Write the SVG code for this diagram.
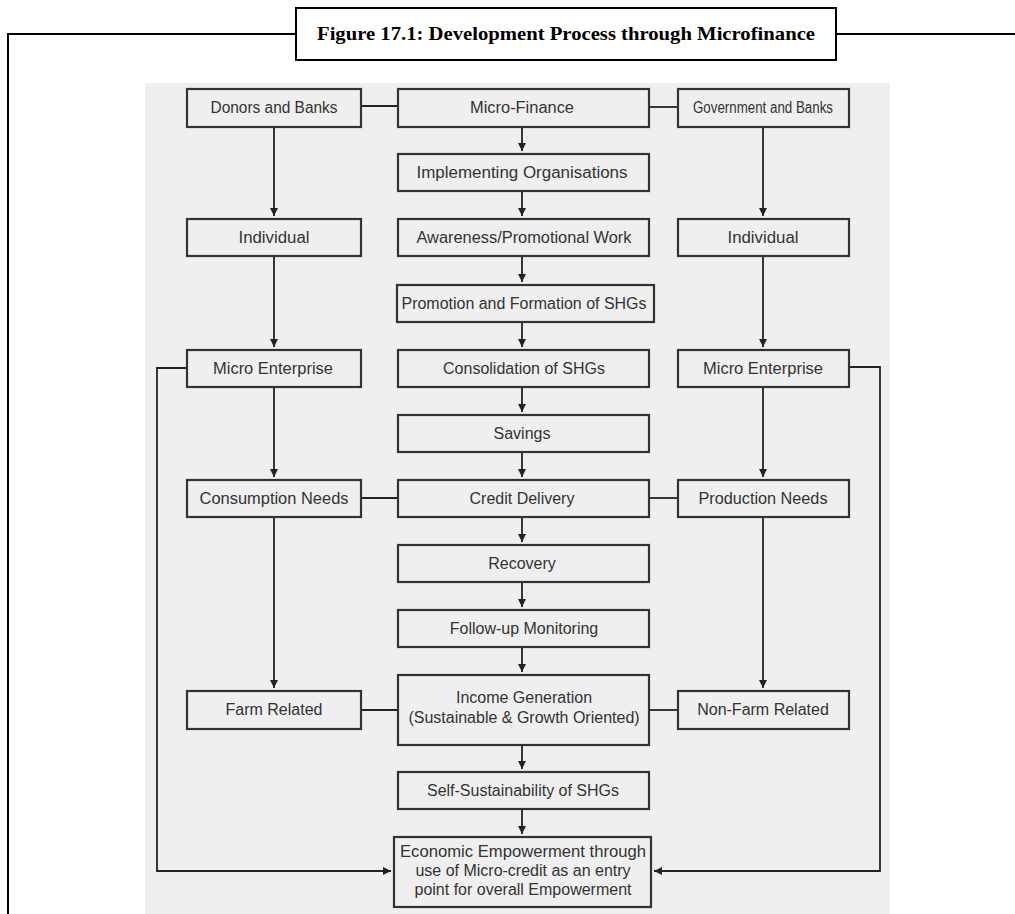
<svg xmlns="http://www.w3.org/2000/svg" width="1015" height="914" viewBox="0 0 1015 914">
<style>
.frame{fill:none;stroke:#000;stroke-width:2}
.box{fill:#efefef;stroke:#333;stroke-width:2.2}
.t{font-family:"Liberation Sans",Arial,sans-serif;font-size:16px;fill:#333;text-anchor:middle}
.c{fill:none;stroke:#222;stroke-width:1.8}
.title{font-family:"Liberation Serif","Times New Roman",serif;font-weight:bold;font-size:19px;fill:#000;text-anchor:middle}
</style>
<defs>
<marker id="ah" markerUnits="userSpaceOnUse" markerWidth="9" markerHeight="9" refX="8" refY="4.5" orient="auto">
<path d="M0,0.5 L8,4.5 L0,8.5 z" fill="#222"/>
</marker>
</defs>
<rect x="0" y="0" width="1015" height="914" fill="#fff"/>
<g id="frame">
<polyline class="frame" points="1015,34 836,34"/>
<polyline class="frame" points="296,34 8,34 8,914"/>
<rect x="296" y="8" width="540" height="52" fill="#fff" stroke="#000" stroke-width="2"/>
<text class="title" x="566" y="40" textLength="498" lengthAdjust="spacingAndGlyphs">Figure 17.1: Development Process through Microfinance</text>
</g>
<rect id="panel" x="145" y="83" width="745" height="831" fill="#efefef"/>
<g id="connectors">
<line class="c" x1="361" y1="106" x2="398" y2="106"/>
<line class="c" x1="649" y1="107" x2="678" y2="107"/>
<line class="c" x1="361" y1="498" x2="398" y2="498"/>
<line class="c" x1="649" y1="498" x2="678" y2="498"/>
<line class="c" x1="361" y1="710" x2="398" y2="710"/>
<line class="c" x1="649" y1="710" x2="678" y2="710"/>
<line class="c" x1="274" y1="127" x2="274" y2="216" marker-end="url(#ah)"/>
<line class="c" x1="274" y1="256" x2="274" y2="347" marker-end="url(#ah)"/>
<line class="c" x1="274" y1="387" x2="274" y2="477" marker-end="url(#ah)"/>
<line class="c" x1="274" y1="517" x2="274" y2="688" marker-end="url(#ah)"/>
<line class="c" x1="763" y1="127" x2="763" y2="216" marker-end="url(#ah)"/>
<line class="c" x1="763" y1="256" x2="763" y2="347" marker-end="url(#ah)"/>
<line class="c" x1="763" y1="387" x2="763" y2="477" marker-end="url(#ah)"/>
<line class="c" x1="763" y1="517" x2="763" y2="688" marker-end="url(#ah)"/>
<line class="c" x1="522" y1="127" x2="522" y2="151" marker-end="url(#ah)"/>
<line class="c" x1="522" y1="191" x2="522" y2="216" marker-end="url(#ah)"/>
<line class="c" x1="522" y1="256" x2="522" y2="282" marker-end="url(#ah)"/>
<line class="c" x1="522" y1="322" x2="522" y2="347" marker-end="url(#ah)"/>
<line class="c" x1="522" y1="387" x2="522" y2="412" marker-end="url(#ah)"/>
<line class="c" x1="522" y1="452" x2="522" y2="477" marker-end="url(#ah)"/>
<line class="c" x1="522" y1="517" x2="522" y2="542" marker-end="url(#ah)"/>
<line class="c" x1="522" y1="582" x2="522" y2="607" marker-end="url(#ah)"/>
<line class="c" x1="522" y1="647" x2="522" y2="672" marker-end="url(#ah)"/>
<line class="c" x1="522" y1="745" x2="522" y2="769" marker-end="url(#ah)"/>
<line class="c" x1="522" y1="809" x2="522" y2="834" marker-end="url(#ah)"/>
<polyline class="c" points="187,368 157,368 157,871 391,871" marker-end="url(#ah)"/>
<polyline class="c" points="849,367 880,367 880,871 654,871" marker-end="url(#ah)"/>
</g>
<g id="donors"><rect class="box" x="187" y="89" width="174" height="38"/><text class="t" x="274" y="113" textLength="127" lengthAdjust="spacingAndGlyphs">Donors and Banks</text></g>
<g id="microfinance"><rect class="box" x="398" y="89" width="251" height="38"/><text class="t" x="522" y="113" textLength="104" lengthAdjust="spacingAndGlyphs">Micro-Finance</text></g>
<g id="government"><rect class="box" x="678" y="89" width="171" height="38"/><text class="t" x="763" y="113" textLength="140" lengthAdjust="spacingAndGlyphs">Government and Banks</text></g>
<g id="implementing"><rect class="box" x="398" y="154" width="251" height="37"/><text class="t" x="522" y="178" textLength="211" lengthAdjust="spacingAndGlyphs">Implementing Organisations</text></g>
<g id="individual-left"><rect class="box" x="187" y="219" width="174" height="37"/><text class="t" x="274" y="243" textLength="71" lengthAdjust="spacingAndGlyphs">Individual</text></g>
<g id="awareness"><rect class="box" x="398" y="219" width="251" height="37"/><text class="t" x="524" y="243" textLength="215" lengthAdjust="spacingAndGlyphs">Awareness/Promotional Work</text></g>
<g id="individual-right"><rect class="box" x="678" y="219" width="171" height="37"/><text class="t" x="763" y="243" textLength="71" lengthAdjust="spacingAndGlyphs">Individual</text></g>
<g id="promotion"><rect class="box" x="397" y="285" width="257" height="37"/><text class="t" x="524" y="309" textLength="245" lengthAdjust="spacingAndGlyphs">Promotion and Formation of SHGs</text></g>
<g id="micro-enterprise-left"><rect class="box" x="187" y="350" width="174" height="37"/><text class="t" x="273" y="374" textLength="120" lengthAdjust="spacingAndGlyphs">Micro Enterprise</text></g>
<g id="consolidation"><rect class="box" x="398" y="350" width="251" height="37"/><text class="t" x="524" y="374">Consolidation of SHGs</text></g>
<g id="micro-enterprise-right"><rect class="box" x="678" y="350" width="171" height="37"/><text class="t" x="763" y="374" textLength="120" lengthAdjust="spacingAndGlyphs">Micro Enterprise</text></g>
<g id="savings"><rect class="box" x="398" y="415" width="251" height="37"/><text class="t" x="522" y="439">Savings</text></g>
<g id="consumption"><rect class="box" x="187" y="480" width="174" height="37"/><text class="t" x="274" y="504" textLength="149" lengthAdjust="spacingAndGlyphs">Consumption Needs</text></g>
<g id="credit"><rect class="box" x="398" y="480" width="251" height="37"/><text class="t" x="522" y="504">Credit Delivery</text></g>
<g id="production"><rect class="box" x="678" y="480" width="171" height="37"/><text class="t" x="763" y="504" textLength="129" lengthAdjust="spacingAndGlyphs">Production Needs</text></g>
<g id="recovery"><rect class="box" x="398" y="545" width="251" height="37"/><text class="t" x="522" y="569">Recovery</text></g>
<g id="followup"><rect class="box" x="398" y="610" width="251" height="37"/><text class="t" x="524" y="634">Follow-up  Monitoring</text></g>
<g id="farm"><rect class="box" x="187" y="691" width="174" height="38"/><text class="t" x="274" y="715">Farm Related</text></g>
<g id="income"><rect class="box" x="398" y="675" width="251" height="70"/><text class="t" x="524" y="703">Income Generation</text><text class="t" x="524" y="723">(Sustainable &amp; Growth Oriented)</text></g>
<g id="nonfarm"><rect class="box" x="678" y="691" width="171" height="38"/><text class="t" x="763" y="715">Non-Farm Related</text></g>
<g id="selfsustain"><rect class="box" x="398" y="772" width="251" height="37"/><text class="t" x="523" y="796">Self-Sustainability of SHGs</text></g>
<g id="empowerment"><rect class="box" x="394" y="837" width="257" height="70"/><text class="t" x="523" y="857" textLength="246" lengthAdjust="spacingAndGlyphs">Economic Empowerment through</text><text class="t" x="523" y="876">use of Micro-credit as an entry</text><text class="t" x="523" y="895">point for overall Empowerment</text></g>
</svg>
